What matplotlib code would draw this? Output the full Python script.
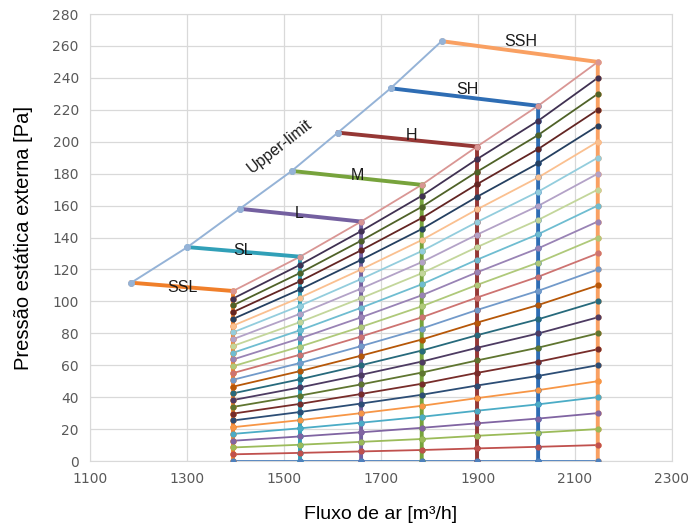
import matplotlib.pyplot as plt

# fluxo de ar em cada ajuste (colunas verticais)
fluxo = [1395, 1533, 1659, 1784, 1898, 2024, 2147]

# curvas de pressão (de baixo para cima), uma linha por curva
curvas = [
    [0, 0, 0, 0, 0, 0, 0],
    [4.2, 5.1, 6.0, 6.9, 7.9, 8.9, 10],
    [8.5, 10.2, 12, 13.8, 15.8, 17.8, 20],
    [12.7, 15.4, 18, 20.8, 23.6, 26.6, 30],
    [17.0, 20.5, 24, 27.7, 31.5, 35.5, 40],
    [21.2, 25.6, 30, 34.6, 39.4, 44.4, 50],
    [25.4, 30.7, 36, 41.5, 47.3, 53.3, 60],
    [29.7, 35.8, 42, 48.4, 55.2, 62.2, 70],
    [33.9, 41.0, 48, 55.4, 63.0, 71.0, 80],
    [38.2, 46.1, 54, 62.3, 70.9, 79.9, 90],
    [42.4, 51.2, 60, 69.2, 78.8, 88.8, 100],
    [46.6, 56.3, 66, 76.1, 86.7, 97.7, 110],
    [50.9, 61.4, 72, 83.0, 94.6, 106.6, 120],
    [55.1, 66.6, 78, 90.0, 102.4, 115.4, 130],
    [59.4, 71.7, 84, 96.9, 110.3, 124.3, 140],
    [63.6, 76.8, 90, 103.8, 118.2, 133.2, 150],
    [67.8, 81.9, 96, 110.7, 126.1, 142.1, 160],
    [72.1, 87.0, 102, 117.6, 134.0, 151.0, 170],
    [76.3, 92.2, 108, 124.6, 141.8, 159.8, 180],
    [80.6, 97.3, 114, 131.5, 149.7, 168.7, 190],
    [84.8, 102.4, 120, 138.4, 157.6, 177.6, 200],
    [89.0, 107.5, 126, 145.3, 165.5, 186.5, 210],
    [93.3, 112.6, 132, 152.2, 173.4, 195.4, 220],
    [97.5, 117.8, 138, 159.2, 181.2, 204.2, 230],
    [101.8, 122.9, 144, 166.1, 189.1, 213.1, 240],
    [106.5, 128, 150, 173, 197, 222.5, 250],
]

cores_curvas = [
    '#4F81BD', '#C0504D', '#9BBB59', '#8064A2', '#4BACC6', '#F79646',
    '#2C4D75', '#772C2A', '#5F7530', '#4D3B62', '#276A7C', '#B65708',
    '#729ACA', '#CD7371', '#AFC97A', '#9983B5', '#6FBDD1', '#C3D69B',
    '#B3A2C7', '#93CDDD', '#FAC090', '#254061', '#632523', '#4F6228',
    '#403152', '#D99694',
]

# limite superior
limite_x = [1185, 1301, 1409, 1516, 1611, 1720, 1825]
limite_y = [111.7, 134, 158, 181.7, 205.7, 233.5, 263]

ajustes = ['SSL', 'SL', 'L', 'M', 'H', 'SH', 'SSH']
cores_ajustes = ['#F07F2A', '#31A0B8', '#7460A0', '#77A33C', '#953735', '#2E6DB4', '#F9A062']
rotulo_x = [1290, 1415, 1531, 1651, 1762, 1879, 1989]
rotulo_y = [109, 132, 155, 179, 204, 233, 263]

fig = plt.figure(figsize=(6.89, 5.29), dpi=100)
ax = fig.add_axes([0.1306, 0.1285, 0.8447, 0.845])

# curvas
for i, c in enumerate(curvas):
    ax.plot(fluxo, c, color=cores_curvas[i], lw=1.3, zorder=3)
    ax.plot(fluxo, c, 'o', color=cores_curvas[i], ms=3.4, zorder=6)

# ajustes: linha do limite até a coluna e descida até zero
for j, nome in enumerate(ajustes):
    col = [c[j] for c in curvas][::-1]
    xs = [limite_x[j]] + [fluxo[j]] * len(col)
    ys = [limite_y[j]] + col
    ax.plot(xs, ys, color=cores_ajustes[j], lw=2.8, zorder=4)
    ax.plot(xs, ys, 'o', color=cores_ajustes[j], ms=3.6, zorder=5)
    ax.text(rotulo_x[j], rotulo_y[j], nome, ha='center', va='center',
            fontsize=11.5, family='Liberation Sans', color='#1a1a1a', zorder=7)

ax.plot(limite_x, limite_y, color='#95B3D7', lw=1.4, marker='o', ms=4, zorder=7)
ax.text(1492, 197, 'Upper-limit', rotation=38, ha='center', va='center',
        fontsize=11.5, family='Liberation Sans', color='#1a1a1a')

ax.set_xlim(1100, 2300)
ax.set_ylim(0, 280)
ax.set_xticks(range(1100, 2301, 200))
ax.set_yticks(range(0, 281, 20))
ax.tick_params(length=0, labelsize=10, colors='#595959', pad=8)
ax.grid(True, color='#D9D9D9', lw=0.9)
ax.set_axisbelow(True)
for s in ax.spines.values():
    s.set_color('#D9D9D9')

ax.set_xlabel('Fluxo de ar [m³/h]', fontsize=14, family='Liberation Sans', labelpad=14)
ax.set_ylabel('Pressão estática externa [Pa]', fontsize=14.5, family='Liberation Sans', labelpad=14)

fig.savefig('out.png', dpi=100)
